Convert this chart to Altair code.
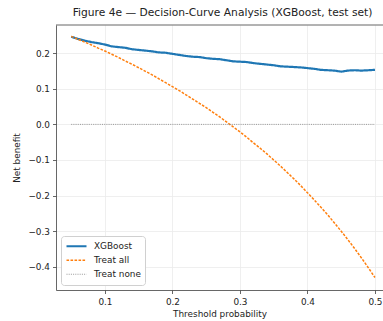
import altair as alt
import pandas as pd

thresholds = [0.05, 0.06, 0.07, 0.08, 0.09, 0.10, 0.11, 0.12, 0.13, 0.14,
              0.15, 0.16, 0.17, 0.18, 0.19, 0.20, 0.21, 0.22, 0.23, 0.24,
              0.25, 0.26, 0.27, 0.28, 0.29, 0.30, 0.31, 0.32, 0.33, 0.34,
              0.35, 0.36, 0.37, 0.38, 0.39, 0.40, 0.41, 0.42, 0.43, 0.44,
              0.45, 0.46, 0.47, 0.48, 0.49, 0.50]

xgboost = [0.246, 0.240, 0.235, 0.231, 0.228, 0.224, 0.219, 0.217, 0.215, 0.211,
           0.209, 0.207, 0.205, 0.202, 0.201, 0.198, 0.195, 0.192, 0.190, 0.189,
           0.186, 0.184, 0.183, 0.180, 0.177, 0.176, 0.175, 0.172, 0.170, 0.168,
           0.166, 0.163, 0.162, 0.161, 0.160, 0.158, 0.156, 0.153, 0.152, 0.151,
           0.148, 0.151, 0.152, 0.151, 0.152, 0.153]

treat_all = [0.247, 0.239, 0.231, 0.223, 0.214, 0.206, 0.197, 0.188, 0.178, 0.169,
             0.159, 0.149, 0.139, 0.128, 0.117, 0.106, 0.095, 0.083, 0.071, 0.059,
             0.047, 0.034, 0.021, 0.007, -0.007, -0.021, -0.036, -0.052, -0.067, -0.083,
             -0.100, -0.117, -0.135, -0.153, -0.172, -0.192, -0.212, -0.233, -0.254, -0.277,
             -0.300, -0.324, -0.349, -0.375, -0.402, -0.430]

treat_none = [0.0] * len(thresholds)

series_names = ["XGBoost", "Treat all", "Treat none"]
series_colors = ["#1f77b4", "#ff7f0e", "#808080"]
series_dash = [[1, 0], [2.6, 1.4], [1, 1.2]]
series_width = [2.2, 0.8, 0.8]

x_ticks = [0.1, 0.2, 0.3, 0.4, 0.5]
y_ticks = [-0.4, -0.3, -0.2, -0.1, 0.0, 0.1, 0.2]

rows = []
for name, vals in zip(series_names, [xgboost, treat_all, treat_none]):
    for t, v in zip(thresholds, vals):
        rows.append({"threshold": t, "net_benefit": v, "series": name})
df = pd.DataFrame(rows)

FONT = "DejaVu Sans"
W, H = 327, 265

legend = alt.Legend(
    title=None, orient="bottom-left", offset=5, symbolType="stroke",
    symbolSize=400, labelFontSize=8.9, labelFont=FONT, labelColor="#222",
    fillColor="white", strokeColor="#d0d0d0", cornerRadius=3, padding=4,
    rowPadding=1, clipHeight=12.5, labelOffset=6,
)

lines = alt.Chart(df).mark_line().encode(
    x=alt.X("threshold:Q", title="Threshold probability",
            scale=alt.Scale(domain=[0.0275, 0.5119], nice=False, zero=False),
            axis=alt.Axis(values=x_ticks, format=".1f")),
    y=alt.Y("net_benefit:Q", title="Net benefit",
            scale=alt.Scale(domain=[-0.465, 0.279], nice=False, zero=False),
            axis=alt.Axis(values=y_ticks, format=".1f")),
    color=alt.Color("series:N", scale=alt.Scale(domain=series_names, range=series_colors), legend=legend),
    strokeDash=alt.StrokeDash("series:N", scale=alt.Scale(domain=series_names, range=series_dash), legend=legend),
    strokeWidth=alt.StrokeWidth("series:N", scale=alt.Scale(domain=series_names, range=series_width), legend=legend),
    order=alt.Order("threshold:Q"),
)

top_spine = alt.Chart(pd.DataFrame({"a": [0]})).mark_rule(color="#404040", strokeWidth=0.8).encode(
    x=alt.value(0), x2=alt.value(W), y=alt.value(0)
)

chart = alt.layer(lines, top_spine).properties(
    width=W, height=H,
    title=alt.TitleParams("Figure 4e \u2014 Decision-Curve Analysis (XGBoost, test set)",
                          font=FONT, fontSize=10.7, fontWeight="normal", color="#222",
                          anchor="middle", offset=6, frame="group", dx=3),
    autosize=alt.AutoSizeParams(type="none"),
    padding={"left": 56, "top": 25, "right": 0, "bottom": 31},
).configure_view(stroke=None).configure_axis(
    labelFont=FONT, titleFont=FONT, labelFontSize=8.9, titleFontSize=8.9,
    titleFontWeight="normal", labelColor="#222", titleColor="#222",
    domainColor="#404040", domainWidth=0.8, tickColor="#404040", tickWidth=0.8,
    tickSize=3.5, gridColor="#ebebeb", gridWidth=0.8, labelPadding=3,
).configure_axisY(titlePadding=6).configure_axisX(titlePadding=3, labelPadding=4)

chart.save("out.html", embed_options={"renderer": "svg", "actions": False})
